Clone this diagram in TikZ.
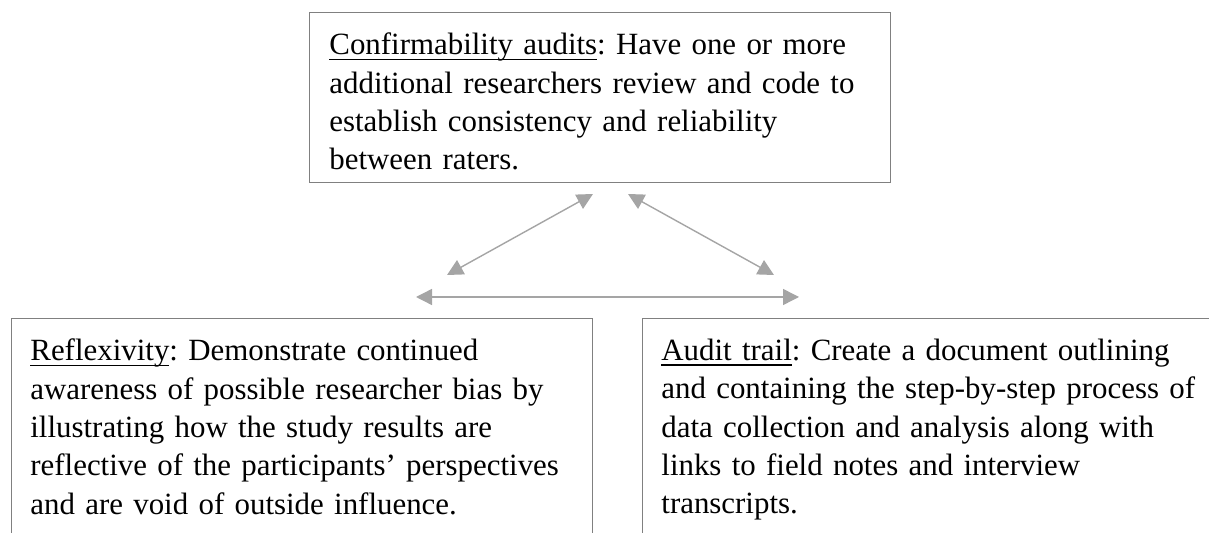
\documentclass[tikz,border=0pt]{standalone}
\usepackage{fontspec}
\setmainfont{Liberation Serif}
\usepackage{tikz}
\usetikzlibrary{positioning, arrows.meta}
\definecolor{boxgray}{HTML}{808080}
\definecolor{arrowgray}{HTML}{A5A5A5}
\newcommand{\ulword}[1]{\setbox0=\hbox{#1}\rlap{\rule[-2.5pt]{\wd0}{0.7pt}}\box0}
\frenchspacing
\tikzset{
x=0.5pt, y=-0.5pt, % one unit is one pixel of the reference
box/.style={draw=boxgray, line width=0.6pt, anchor=north west, minimum width=290.5pt, inner sep=0pt}, % the frames
boxtext/.style={inner sep=0pt, text width=285pt, align=left, font=\fontsize{15.45pt}{19.15pt}\selectfont}, % the texts in the frames
link/.style={draw=arrowgray, line width=0.7pt, {Triangle[length=8pt,width=8pt]}-{Triangle[length=8pt,width=8pt]}}, % double headed arrows
}

\begin{document}
\begin{tikzpicture}
            \useasboundingbox (0,0) rectangle (1209,533);
            \clip (0,0) rectangle (1209,533);
            % frames
            \node[box, minimum height=85pt] (audits) at (309,12) {};
            \node[box, minimum height=130pt] (reflex) at (11,318) {};
            \node[box, minimum height=130pt] (trail) at (642,318) {};
            % texts
            \node[boxtext, below right=10.4pt and 10pt of audits.north west] (auditstext) {\ulword{Confirmability audits}: Have one or more\\
                additional researchers review and code to\\
                establish consistency and reliability\\
                between raters.};
            \node[boxtext, below right=10.4pt and 9.5pt of reflex.north west] (reflextext) {\ulword{Reflexivity}: Demonstrate continued\\
                awareness of possible researcher bias by\\
                illustrating how the study results are\\
                reflective of the participants' perspectives\\
                and are void of outside influence.};
            \node[boxtext, below right=10.4pt and 9.5pt of trail.north west] (trailtext) {\ulword{Audit trail}: Create a document outlining\\
                and containing the step-by-step process of\\
                data collection and analysis along with\\
                links to field notes and interview\\
                transcripts.};
            % arrow ends
            \coordinate (upL) at (593,194);
            \coordinate (upR) at (628,194);
            \coordinate (lowL) at (447,275);
            \coordinate (lowR) at (774,275);
            \coordinate (midL) at (416,297);
            \coordinate (midR) at (799,297);
            \draw[link] (upL) -- (lowL);
            \draw[link] (upR) -- (lowR);
            \draw[link] (midL) -- (midR);
        \end{tikzpicture}
\end{document}
